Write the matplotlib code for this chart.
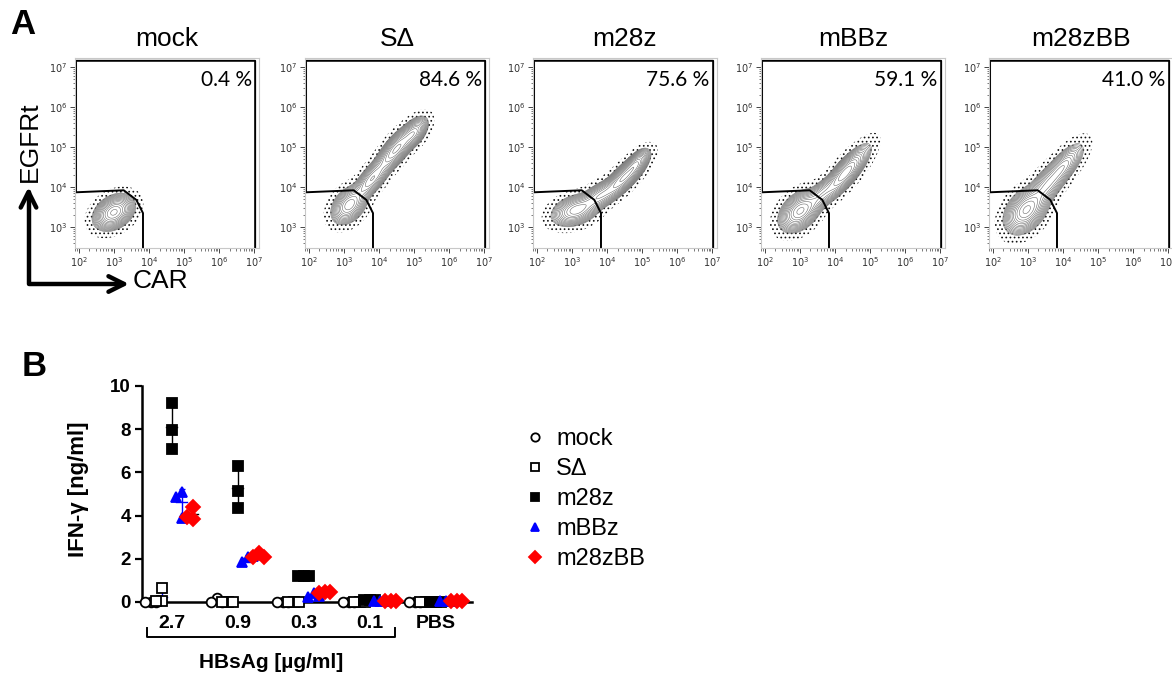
import numpy as np
import matplotlib
matplotlib.use("Agg")
import matplotlib.pyplot as plt
from matplotlib.lines import Line2D
from matplotlib.patches import FancyArrowPatch
from matplotlib.path import Path

plt.rcParams['font.family'] = ['Liberation Sans', 'DejaVu Sans']
plt.rcParams['hatch.color'] = '#111111'
plt.rcParams['hatch.linewidth'] = 0.7

W, H = 1172, 677

# ---- flow data (log10 units) ----
samples = ['mock', 'S\u0394', 'm28z', 'mBBz', 'm28zBB']
percent = [0.4, 84.6, 75.6, 59.1, 41.0]

# populations: (log CAR, log EGFRt, sd major, sd minor, angle, weight)
mock_pops = [(3.0, 3.37, 0.26, 0.17, 25, 1.0)]
sd_pops = [(3.15, 3.55, 0.25, 0.17, 40, 0.7),
           (3.8, 4.2, 0.35, 0.13, 45, 0.6),
           (4.5, 4.95, 0.35, 0.13, 45, 1.0),
           (5.0, 5.35, 0.22, 0.12, 45, 0.6)]
m28z_pops = [(3.1, 3.42, 0.3, 0.16, 15, 0.7),
             (3.8, 3.78, 0.35, 0.13, 28, 0.6),
             (4.5, 4.25, 0.35, 0.12, 40, 1.0),
             (4.85, 4.6, 0.2, 0.1, 45, 0.5)]
mbbz_pops = [(3.0, 3.4, 0.28, 0.18, 35, 1.0),
             (3.6, 3.8, 0.3, 0.13, 40, 0.4),
             (4.3, 4.35, 0.4, 0.13, 45, 0.9)]
m28zbb_pops = [(2.95, 3.42, 0.3, 0.2, 40, 1.0),
               (3.5, 4.0, 0.35, 0.16, 45, 0.45),
               (4.0, 4.5, 0.35, 0.14, 45, 0.45)]
all_pops = [mock_pops, sd_pops, m28z_pops, mbbz_pops, m28zbb_pops]

gate_x = [3.83, 3.83, 3.64, 3.28, 1.92, 1.92, 7.03, 7.03]
gate_y = [2.48, 3.35, 3.68, 3.92, 3.87, 7.15, 7.15, 2.48]

xlim_log = (1.89, 7.14)
ylim_log = (2.48, 7.22)

# ---- IFN-gamma data ----
cats = ['2.7', '0.9', '0.3', '0.1', 'PBS']
mock_ifn = [[0, 0, 0], [0.2, 0, 0], [0, 0, 0], [0, 0, 0], [0, 0, 0]]
sd_ifn = [[0.65, 0.05, 0.05], [0, 0, 0], [0, 0, 0], [0, 0, 0], [0, 0, 0]]
m28z_ifn = [[9.2, 7.95, 7.1], [6.3, 5.15, 4.35], [1.2, 1.2, 1.2],
            [0.1, 0.1, 0.1], [0.02, 0.02, 0.02]]
mbbz_ifn = [[5.1, 4.85, 3.9], [2.1, 1.85, 2.15], [0.4, 0.25, 0.3],
            [0.05, 0.05, 0.05], [0.05, 0.05, 0.05]]
m28zbb_ifn = [[4.4, 3.85, 3.95], [2.25, 2.1, 2.1], [0.45, 0.4, 0.45],
              [0.05, 0.05, 0.05], [0.05, 0.05, 0.05]]


def rect(left, top, w, h):
    return [left / W, 1 - (top + h) / H, w / W, h / H]


def density(pops, gx, gy):
    z = np.zeros_like(gx)
    for cx, cy, sa, sb, ang, w in pops:
        t = np.deg2rad(ang)
        dx, dy = gx - cx, gy - cy
        u = dx * np.cos(t) + dy * np.sin(t)
        v = -dx * np.sin(t) + dy * np.cos(t)
        z += w * np.exp(-0.5 * ((u / sa) ** 2 + (v / sb) ** 2))
    return z


fig = plt.figure(figsize=(W / 100, H / 100), dpi=100)

gx, gy = np.meshgrid(np.linspace(*xlim_log, 400), np.linspace(*ylim_log, 400))
lefts = [75, 305, 533, 761, 989]
for i, name in enumerate(samples):
    ax = fig.add_axes(rect(lefts[i], 58, 184, 190))
    z = density(all_pops[i], gx, gy)
    zmax = z.max()
    # outlier events around the lowest contour
    ax.contourf(gx, gy, z, levels=[zmax * 0.003, zmax * 0.05],
                colors='none', hatches=['....'])
    ax.contour(gx, gy, z, levels=zmax * np.geomspace(0.04, 0.93, 15),
               colors='#6a6a6a', linewidths=0.4)
    ax.plot(gate_x, gate_y, color='black', lw=1.4, clip_on=False)
    ax.set_xlim(*xlim_log)
    ax.set_ylim(*ylim_log)
    xt = np.arange(2, 8)
    yt = np.arange(3, 8)
    ax.set_xticks(xt, [f'$10^{{{n}}}$' for n in xt])
    ax.set_yticks(yt, [f'$10^{{{n}}}$' for n in yt])
    minor = [n + np.log10(k) for n in range(1, 8) for k in range(2, 10)]
    ax.set_xticks([m for m in minor if xlim_log[0] < m < xlim_log[1]], minor=True)
    ax.set_yticks([m for m in minor if ylim_log[0] < m < ylim_log[1]], minor=True)
    ax.tick_params(which='major', length=3.5, width=0.7, color='#444',
                   labelsize=7, labelcolor='#333', pad=2)
    ax.tick_params(which='minor', length=1.8, width=0.5, color='#444')
    for s in ax.spines.values():
        s.set_color('#c8c8c8')
        s.set_linewidth(0.8)
    ax.set_title(name, fontsize=19, pad=9)
    ax.text(0.96, 0.935, f'{percent[i]:.1f} %', transform=ax.transAxes,
            ha='right', va='top', fontsize=15, family=['Lato', 'DejaVu Sans'])

# axis arrows for the flow panels
p0 = (28.5 / W, 1 - 187 / H)
p1 = (28.5 / W, 1 - 284 / H)
p2 = (129 / W, 1 - 284 / H)
arrow = FancyArrowPatch(path=Path([p0, p1, p2]), arrowstyle='<->',
                        mutation_scale=28, lw=3.2, color='black',
                        transform=fig.transFigure)
fig.add_artist(arrow)
fig.text(30 / W, 1 - 142 / H, 'EGFRt', rotation=90, ha='center',
         va='center', fontsize=19)
fig.text(133 / W, 1 - 281 / H, 'CAR', ha='left', va='center', fontsize=19)

fig.text(10 / W, 1 - 8 / H, 'A', fontsize=25, fontweight='bold', va='top')
fig.text(22 / W, 1 - 350 / H, 'B', fontsize=25, fontweight='bold', va='top')

# ---- panel B ----
bx = fig.add_axes(rect(142, 386, 330, 216))
series = [
    (mock_ifn, 'mock', 'o', 'white', 'black', 'red'),
    (sd_ifn, 'S\u0394', 's', 'white', 'black', 'blue'),
    (m28z_ifn, 'm28z', 's', 'black', 'black', 'black'),
    (mbbz_ifn, 'mBBz', '^', 'blue', 'blue', 'blue'),
    (m28zbb_ifn, 'm28zBB', 'D', 'red', 'red', 'black'),
]
offsets = [-0.32, -0.15, 0.0, 0.15, 0.32]
d = 0.085
for (vals, label, mk, fc, ec, errc), off in zip(series, offsets):
    for g, group in enumerate(vals):
        xc = g + off
        placed = []
        for v in group:
            for cand in [0, -d, d, -2 * d, 2 * d]:
                if all(not (abs(cand - px) < d * 0.9 and abs(v - py) < 0.35)
                       for px, py in placed):
                    placed.append((cand, v))
                    break
        xs = [xc + p[0] for p in placed]
        ys = [p[1] for p in placed]
        mean = np.mean(group)
        sdv = np.std(group, ddof=1)
        if sdv > 0.03:
            bx.errorbar(xc, mean, yerr=sdv, fmt='none', ecolor=errc,
                        elinewidth=1.0, capsize=2.5, capthick=1.0,
                        clip_on=False, zorder=2)
        bx.plot([xc - 0.08, xc + 0.08], [mean, mean], color=errc, lw=1.0,
                clip_on=False, zorder=2)
        size = 7 if mk != '^' else 7.5
        bx.plot(xs, ys, ls='none', marker=mk, ms=size, mfc=fc, mec=ec,
                mew=1.3, clip_on=False, zorder=3)

bx.set_xlim(-0.45, 4.55)
bx.set_ylim(0, 10)
bx.set_yticks(range(0, 11, 2))
bx.set_xticks(range(5), cats)
bx.tick_params(axis='y', length=5, width=1.6, labelsize=13.5, pad=3)
bx.tick_params(axis='x', length=0, labelsize=14, pad=9)
for lab in bx.get_xticklabels() + bx.get_yticklabels():
    lab.set_fontweight('bold')
for s in ['top', 'right']:
    bx.spines[s].set_visible(False)
bx.spines['left'].set_linewidth(1.8)
bx.spines['bottom'].set_linewidth(1.8)
bx.set_ylabel('IFN-\u03b3 [ng/ml]', fontsize=16, fontweight='bold', labelpad=6)
bx.yaxis.set_label_coords(-0.16, 0.52)

tr = bx.get_xaxis_transform()
bx.plot([-0.38, -0.38, 3.38, 3.38], [-0.120, -0.162, -0.162, -0.120],
        color='black', lw=1.4, transform=tr, clip_on=False)
bx.text(1.5, -0.282, 'HBsAg [\u00b5g/ml]', transform=tr, ha='center',
        va='center', fontsize=15, fontweight='bold')

handles = [Line2D([], [], ls='none', marker=mk, ms=6, mfc=fc, mec=ec, mew=1.3)
           for _, _, mk, fc, ec, _ in series]
fig.legend(handles, [s[1] for s in series], loc='upper left',
           bbox_to_anchor=(523 / W, 1 - 428 / H), frameon=False, fontsize=17,
           handlelength=1.0, handletextpad=0.4, labelspacing=0.34,
           borderpad=0, borderaxespad=0)

fig.savefig('out.png', dpi=100)
